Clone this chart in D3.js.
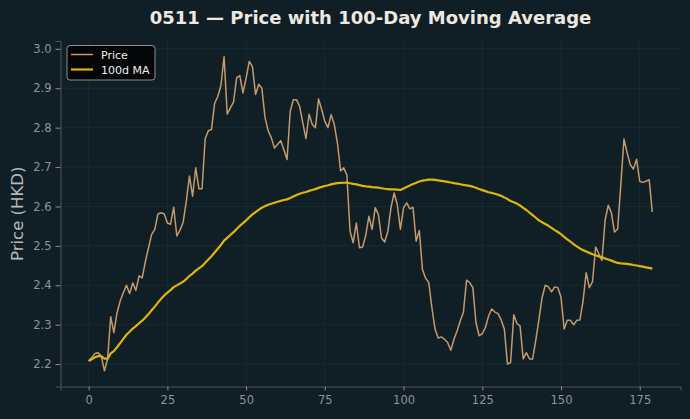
<!DOCTYPE html>
<html><head><meta charset="utf-8">
<script src="https://cdn.jsdelivr.net/npm/d3@7"></script>
<style>
html,body{margin:0;padding:0;background:#101f26;}
svg{display:block;font-family:"DejaVu Sans",sans-serif;}
</style></head>
<body><svg id="c" width="690" height="419"></svg>
<script>
const title = "0511 — Price with 100-Day Moving Average";
const yLabel = "Price (HKD)";
const seriesNames = ["Price", "100d MA"];
const xTicks = [0, 25, 50, 75, 100, 125, 150, 175];
const yTicks = [2.2, 2.3, 2.4, 2.5, 2.6, 2.7, 2.8, 2.9, 3.0];
const maWindow = 100;
const price = [
2.208,2.217,2.227,2.229,2.220,2.183,2.213,2.320,2.280,2.330,
2.360,2.381,2.400,2.379,2.406,2.387,2.424,2.419,2.460,2.495,
2.529,2.542,2.581,2.584,2.581,2.558,2.555,2.598,2.525,2.540,
2.560,2.613,2.677,2.626,2.698,2.645,2.645,2.772,2.792,2.795,
2.862,2.879,2.907,2.980,2.834,2.850,2.865,2.927,2.932,2.888,
2.926,2.968,2.955,2.884,2.910,2.900,2.826,2.792,2.774,2.748,
2.758,2.767,2.744,2.719,2.841,2.871,2.871,2.854,2.812,2.772,
2.834,2.808,2.800,2.873,2.846,2.816,2.800,2.833,2.808,2.761,
2.690,2.698,2.680,2.537,2.508,2.558,2.495,2.497,2.527,2.575,
2.542,2.597,2.580,2.520,2.510,2.536,2.597,2.634,2.605,2.542,
2.597,2.609,2.594,2.598,2.512,2.539,2.440,2.418,2.407,2.343,
2.289,2.266,2.269,2.263,2.255,2.235,2.263,2.284,2.310,2.331,
2.413,2.407,2.394,2.305,2.272,2.277,2.293,2.322,2.340,2.332,
2.328,2.312,2.289,2.200,2.204,2.325,2.303,2.297,2.213,2.229,
2.213,2.213,2.261,2.314,2.369,2.400,2.396,2.383,2.396,2.394,
2.370,2.289,2.311,2.311,2.300,2.311,2.312,2.360,2.432,2.394,
2.409,2.497,2.480,2.463,2.565,2.603,2.584,2.535,2.543,2.656,
2.771,2.736,2.706,2.695,2.720,2.664,2.661,2.664,2.668,2.586
];
const days = price.map((_, i) => i);
// rolling mean with min_periods=1 (as in the source chart)
const ma = price.map((_, i) => d3.mean(price.slice(Math.max(0, i - maWindow + 1), i + 1)));

const svg = d3.select("#c");
const m = {l: 60.5, r: 680.5, t: 41, b: 386.5};
const xPad = (days[days.length-1] - days[0]) * 0.05;
const x = d3.scaleLinear().domain([days[0] - xPad, days[days.length-1] + xPad]).range([m.l, m.r]);
const yMin = d3.min(price), yMax = d3.max(price), yr = yMax - yMin;
const y = d3.scaleLinear().domain([yMin - 0.05*yr, yMax + 0.05*yr]).range([m.b, m.t]);

// grid
const g = svg.append("g");
g.selectAll(".gx").data(xTicks).join("line")
  .attr("x1", d => x(d)).attr("x2", d => x(d)).attr("y1", m.t).attr("y2", m.b)
  .attr("stroke", "#1b2c34").attr("stroke-width", 0.8);
g.selectAll(".gy").data(yTicks).join("line")
  .attr("y1", d => y(d)).attr("y2", d => y(d)).attr("x1", m.l).attr("x2", m.r)
  .attr("stroke", "#1b2c34").attr("stroke-width", 0.8);

// axes
const xAxis = svg.append("g").attr("transform", `translate(0,${m.b})`)
  .call(d3.axisBottom(x).tickValues(xTicks).tickFormat(d3.format("d")).tickSize(4).tickPadding(5));
const yAxis = svg.append("g").attr("transform", `translate(${m.l},0)`)
  .call(d3.axisLeft(y).tickValues(yTicks).tickFormat(d3.format(".1f")).tickSize(5).tickPadding(4));
[xAxis, yAxis].forEach(a => {
  a.select(".domain").attr("stroke", "#4f5458").attr("stroke-width", 1);
  a.selectAll(".tick line").attr("stroke", "#8a8d8f");
  a.selectAll(".tick text").attr("fill", "#8f9396").attr("font-size", 11.5)
    .attr("font-family", "DejaVu Sans");
});

// lines
const line = d3.line().x((d, i) => x(days[i])).y(d => y(d));
svg.append("path").datum(price).attr("d", line).attr("fill", "none")
  .attr("stroke", "#c49a6c").attr("stroke-width", 1.5).attr("stroke-linejoin", "round");
svg.append("path").datum(ma).attr("d", line).attr("fill", "none")
  .attr("stroke", "#dfb40f").attr("stroke-width", 2.2).attr("stroke-linejoin", "round");

// title
svg.append("text").attr("x", (m.l + m.r) / 2).attr("y", 24).attr("text-anchor", "middle")
  .attr("fill", "#ede8e0").attr("font-size", 18).attr("font-weight", "bold").text(title);
// y label
svg.append("text").attr("transform", `translate(23,${(m.t + m.b) / 2}) rotate(-90)`)
  .attr("text-anchor", "middle").attr("fill", "#b4b8ba").attr("font-size", 16.5).text(yLabel);

// legend
const lg = svg.append("g");
lg.append("rect").attr("x", 67).attr("y", 45.5).attr("width", 88).attr("height", 34.5).attr("rx", 3)
  .attr("fill", "#050607").attr("stroke", "#8c8f90").attr("stroke-width", 1);
const colors = ["#c49a6c", "#dfb40f"], widths = [1.5, 2.2];
seriesNames.forEach((n, i) => {
  const yy = 54.5 + i * 15;
  lg.append("line").attr("x1", 71).attr("x2", 93).attr("y1", yy).attr("y2", yy)
    .attr("stroke", colors[i]).attr("stroke-width", widths[i]);
  lg.append("text").attr("x", 101).attr("y", yy + 4).attr("fill", "#eeeeee")
    .attr("font-size", 11).text(n);
});
</script></body></html>
